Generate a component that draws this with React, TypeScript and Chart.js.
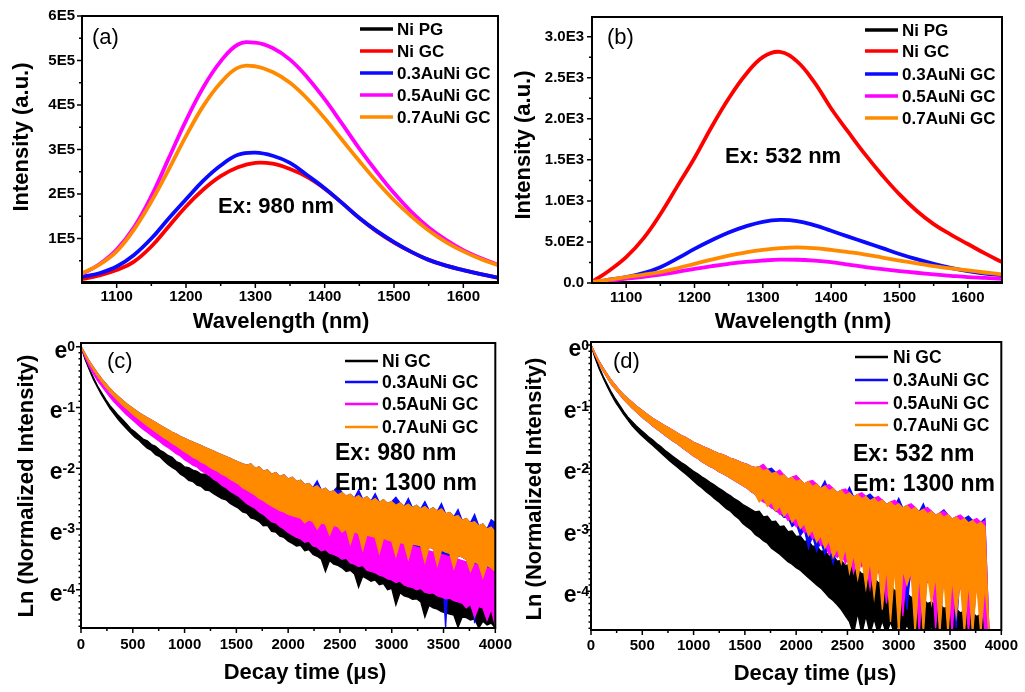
import React, { useEffect, useRef } from "react";
import { Chart, registerables } from "chart.js";

Chart.register(...registerables);

const FONT = "'Liberation Sans', Arial, Helvetica, sans-serif";

// ---------- Panel (a): PL spectra, Ex 980 nm (intensity in units of 1E5) ----------
const WAVELENGTHS = [1050, 1075, 1100, 1125, 1150, 1175, 1200, 1225, 1250, 1275, 1300, 1325, 1350, 1375, 1400, 1425, 1450, 1475, 1500, 1525, 1550, 1575, 1600, 1625, 1650];
const A_NI_PG = [0, 0, 0, 0, 0, 0, 0, 0, 0, 0, 0, 0, 0, 0, 0, 0, 0, 0, 0, 0, 0, 0, 0, 0, 0];
const A_NI_GC = [0.09, 0.17, 0.29, 0.48, 0.82, 1.27, 1.72, 2.10, 2.40, 2.60, 2.70, 2.68, 2.56, 2.38, 2.12, 1.80, 1.46, 1.16, 0.91, 0.70, 0.52, 0.39, 0.29, 0.20, 0.12];
const A_AU03 = [0.14, 0.22, 0.37, 0.63, 1.00, 1.45, 1.88, 2.30, 2.64, 2.88, 2.93, 2.86, 2.70, 2.42, 2.13, 1.80, 1.46, 1.17, 0.92, 0.70, 0.52, 0.39, 0.29, 0.20, 0.12];
const A_AU05 = [0.20, 0.42, 0.75, 1.25, 1.95, 2.80, 3.65, 4.40, 4.98, 5.36, 5.40, 5.28, 5.02, 4.62, 4.13, 3.58, 3.02, 2.50, 2.02, 1.60, 1.25, 0.97, 0.74, 0.56, 0.41];
const A_AU07 = [0.22, 0.41, 0.71, 1.20, 1.83, 2.55, 3.30, 3.98, 4.50, 4.84, 4.87, 4.74, 4.50, 4.14, 3.70, 3.22, 2.74, 2.28, 1.86, 1.50, 1.18, 0.92, 0.71, 0.54, 0.40];

// ---------- Panel (b): PL spectra, Ex 532 nm ----------
const B_NI_PG = [0, 0, 0, 0, 0, 0, 0, 0, 0, 0, 0, 0, 0, 0, 0, 0, 0, 0, 0, 0, 0, 0, 0, 0, 0];
const B_NI_GC = [12, 150, 314, 540, 838, 1180, 1522, 1900, 2247, 2540, 2751, 2815, 2700, 2450, 2126, 1840, 1563, 1310, 1079, 880, 717, 590, 475, 360, 254];
const B_AU03 = [0, 40, 72, 120, 193, 300, 415, 520, 616, 690, 745, 768, 755, 705, 636, 565, 495, 425, 354, 290, 234, 185, 145, 115, 93];
const B_AU05 = [12, 30, 52, 75, 101, 135, 173, 205, 234, 258, 274, 285, 283, 272, 254, 225, 193, 168, 145, 125, 105, 88, 72, 62, 52];
const B_AU07 = [12, 40, 72, 100, 133, 180, 234, 285, 334, 372, 403, 425, 435, 425, 403, 376, 346, 310, 274, 240, 205, 178, 153, 128, 105];

// ---------- Decay curves: ln(normalized intensity), every 40 us.
// The noisy traces are dense, so each one is given as the upper and lower edge of its noise band.
const TIME_STEP_US = 40;
const TIMES = Array.from({ length: 101 }, (_, i) => i * TIME_STEP_US);

const C_NI_GC_UP = [
  0.00, -0.19, -0.36, -0.51, -0.65, -0.76, -0.87, -0.97, -1.05, -1.13,
  -1.20, -1.27, -1.35, -1.40, -1.46, -1.52, -1.55, -1.61, -1.64, -1.70,
  -1.74, -1.79, -1.82, -1.89, -1.92, -1.98, -1.99, -2.03, -2.05, -2.10,
  -2.10, -2.14, -2.16, -2.19, -2.21, -2.25, -2.26, -2.31, -2.33, -2.37,
  -2.40, -2.45, -2.46, -2.53, -2.54, -2.60, -2.61, -2.68, -2.70, -2.75,
  -2.77, -2.78, -2.84, -2.84, -2.90, -2.90, -2.96, -2.97, -3.02, -3.03,
  -3.08, -3.09, -3.14, -3.12, -3.16, -3.18, -3.22, -3.22, -3.28, -3.28,
  -3.33, -3.34, -3.38, -3.39, -3.44, -3.45, -3.48, -3.52, -3.54, -3.58,
  -3.60, -3.64, -3.66, -3.70, -3.72, -3.76, -3.78, -3.82, -3.84, -3.85,
  -3.88, -3.88, -3.92, -3.93, -3.96, -3.96, -3.98, -4.00, -4.00, -4.02,
  -4.05,
];
const C_NI_GC_LO = [
  0.00, -0.21, -0.38, -0.54, -0.67, -0.80, -0.91, -1.02, -1.11, -1.20,
  -1.28, -1.35, -1.42, -1.49, -1.54, -1.61, -1.67, -1.71, -1.78, -1.81,
  -1.88, -1.94, -1.99, -2.03, -2.10, -2.14, -2.20, -2.22, -2.28, -2.30,
  -2.36, -2.37, -2.42, -2.46, -2.50, -2.52, -2.58, -2.62, -2.66, -2.72,
  -2.74, -2.82, -2.84, -2.88, -2.95, -2.94, -3.04, -3.05, -3.12, -3.14,
  -3.20, -3.24, -3.28, -3.27, -3.36, -3.34, -3.42, -3.45, -3.50, -3.70,
  -3.52, -3.58, -3.60, -3.64, -3.70, -3.68, -3.74, -3.96, -3.78, -3.82,
  -3.86, -3.84, -3.92, -3.90, -4.00, -3.98, -4.25, -4.05, -4.10, -4.12,
  -4.16, -4.15, -4.20, -4.45, -4.26, -4.30, -4.32, -4.36, -4.38, -4.40,
  -4.42, -4.62, -4.45, -4.46, -4.50, -4.48, -4.63, -4.52, -4.58, -4.55,
  -4.63,
];
const C_AU03_UP = [
  0.00, -0.12, -0.24, -0.34, -0.44, -0.53, -0.61, -0.69, -0.76, -0.82,
  -0.88, -0.94, -0.99, -1.04, -1.09, -1.13, -1.17, -1.21, -1.25, -1.29,
  -1.33, -1.37, -1.41, -1.44, -1.48, -1.51, -1.54, -1.57, -1.60, -1.63,
  -1.66, -1.69, -1.72, -1.75, -1.78, -1.81, -1.84, -1.87, -1.90, -1.93,
  -1.95, -1.93, -2.00, -1.98, -2.05, -2.03, -2.10, -2.07, -2.14, -2.11,
  -2.18, -2.15, -2.22, -2.20, -2.27, -2.25, -2.32, -2.21, -2.36, -2.33,
  -2.40, -2.37, -2.30, -2.40, -2.46, -2.43, -2.49, -2.36, -2.51, -2.47,
  -2.54, -2.42, -2.56, -2.52, -2.58, -2.55, -2.48, -2.57, -2.63, -2.50,
  -2.65, -2.61, -2.67, -2.55, -2.69, -2.65, -2.71, -2.58, -2.75, -2.73,
  -2.80, -2.68, -2.86, -2.83, -2.90, -2.76, -2.95, -2.92, -3.00, -2.85,
  -2.90,
];
const C_AU03_LO = [
  0.00, -0.14, -0.27, -0.38, -0.48, -0.58, -0.66, -0.74, -0.82, -0.89,
  -0.96, -1.02, -1.08, -1.14, -1.19, -1.25, -1.30, -1.35, -1.40, -1.45,
  -1.50, -1.54, -1.59, -1.63, -1.68, -1.73, -1.77, -1.82, -1.85, -1.90,
  -1.93, -1.98, -2.02, -2.05, -2.10, -2.13, -2.18, -2.22, -2.26, -2.32,
  -2.36, -2.40, -2.44, -2.50, -2.53, -2.58, -2.62, -2.66, -2.70, -2.72,
  -2.76, -2.78, -2.80, -2.82, -2.90, -2.85, -2.88, -3.00, -2.90, -3.15,
  -3.10, -2.94, -2.96, -3.05, -3.00, -3.25, -3.04, -3.08, -3.35, -3.10,
  -3.12, -3.14, -3.40, -3.55, -3.18, -3.20, -3.45, -3.22, -3.24, -3.50,
  -3.25, -3.60, -3.28, -3.55, -3.30, -3.32, -3.60, -3.35, -4.63, -3.40,
  -3.65, -3.44, -3.46, -3.50, -3.70, -4.55, -3.58, -3.80, -3.60, -4.20,
  -3.70,
];
const C_AU05_UP = [
  0.00, -0.16, -0.30, -0.42, -0.52, -0.61, -0.70, -0.78, -0.85, -0.92,
  -0.98, -1.04, -1.10, -1.15, -1.20, -1.24, -1.29, -1.33, -1.38, -1.42,
  -1.46, -1.50, -1.54, -1.57, -1.61, -1.65, -1.68, -1.71, -1.74, -1.78,
  -1.80, -1.84, -1.86, -1.90, -1.92, -1.96, -1.98, -2.02, -2.05, -2.08,
  -2.12, -2.15, -2.18, -2.22, -2.25, -2.30, -2.33, -2.38, -2.42, -2.46,
  -2.50, -2.54, -2.57, -2.60, -2.64, -2.66, -2.70, -2.73, -2.76, -2.78,
  -2.80, -2.84, -2.86, -2.88, -2.92, -2.94, -2.96, -2.98, -3.02, -3.04,
  -3.06, -3.08, -3.12, -3.14, -3.16, -3.18, -3.20, -3.22, -3.24, -3.26,
  -3.28, -3.30, -3.32, -3.34, -3.36, -3.38, -3.40, -3.42, -3.44, -3.46,
  -3.48, -3.50, -3.52, -3.54, -3.56, -3.58, -3.60, -3.62, -3.64, -3.66,
  -3.68,
];
const C_AU05_LO = [
  0.00, -0.18, -0.33, -0.45, -0.56, -0.65, -0.74, -0.83, -0.91, -0.98,
  -1.05, -1.12, -1.18, -1.24, -1.30, -1.36, -1.41, -1.46, -1.51, -1.56,
  -1.62, -1.66, -1.71, -1.76, -1.80, -1.86, -1.90, -1.95, -1.98, -2.04,
  -2.08, -2.12, -2.18, -2.22, -2.28, -2.32, -2.38, -2.42, -2.46, -2.52,
  -2.58, -2.62, -2.66, -2.72, -2.76, -2.82, -2.88, -2.90, -2.96, -3.00,
  -3.06, -3.10, -3.14, -3.16, -3.22, -3.20, -3.28, -3.30, -3.36, -3.34,
  -3.40, -3.42, -3.45, -3.50, -3.48, -3.56, -3.58, -3.62, -3.60, -3.68,
  -3.70, -3.72, -3.76, -3.78, -3.82, -3.84, -3.88, -3.86, -3.92, -3.95,
  -3.96, -4.00, -3.98, -4.04, -4.06, -4.05, -4.10, -4.12, -4.15, -4.14,
  -4.18, -4.20, -4.22, -4.30, -4.24, -4.45, -4.28, -4.30, -4.50, -4.32,
  -4.60,
];
const C_AU07_UP = [
  0.00, -0.12, -0.24, -0.34, -0.44, -0.53, -0.61, -0.69, -0.76, -0.82,
  -0.88, -0.94, -0.99, -1.04, -1.09, -1.13, -1.17, -1.21, -1.25, -1.29,
  -1.33, -1.37, -1.41, -1.44, -1.48, -1.51, -1.54, -1.57, -1.60, -1.63,
  -1.66, -1.69, -1.72, -1.75, -1.78, -1.81, -1.84, -1.87, -1.90, -1.93,
  -1.95, -1.93, -2.00, -1.98, -2.05, -2.03, -2.10, -2.07, -2.14, -2.11,
  -2.18, -2.15, -2.22, -2.20, -2.27, -2.25, -2.32, -2.29, -2.36, -2.33,
  -2.40, -2.37, -2.44, -2.40, -2.46, -2.43, -2.49, -2.45, -2.51, -2.47,
  -2.54, -2.50, -2.56, -2.52, -2.58, -2.55, -2.61, -2.57, -2.63, -2.59,
  -2.65, -2.61, -2.67, -2.63, -2.69, -2.65, -2.71, -2.67, -2.75, -2.73,
  -2.80, -2.78, -2.86, -2.83, -2.90, -2.88, -2.95, -2.92, -3.00, -2.97,
  -3.05,
];
const C_AU07_LO = [
  0.00, -0.14, -0.27, -0.38, -0.48, -0.58, -0.66, -0.74, -0.82, -0.89,
  -0.96, -1.02, -1.08, -1.14, -1.19, -1.25, -1.30, -1.35, -1.40, -1.45,
  -1.50, -1.54, -1.59, -1.63, -1.68, -1.73, -1.77, -1.82, -1.85, -1.90,
  -1.93, -1.98, -2.02, -2.05, -2.10, -2.13, -2.18, -2.22, -2.26, -2.32,
  -2.36, -2.40, -2.44, -2.50, -2.53, -2.58, -2.62, -2.66, -2.70, -2.72,
  -2.76, -2.78, -2.80, -2.82, -2.90, -2.85, -2.88, -3.00, -2.90, -2.92,
  -3.10, -2.94, -2.96, -3.05, -3.00, -3.25, -3.04, -3.08, -3.35, -3.10,
  -3.12, -3.14, -3.40, -3.15, -3.18, -3.20, -3.45, -3.22, -3.24, -3.50,
  -3.25, -3.26, -3.28, -3.55, -3.30, -3.32, -3.60, -3.35, -3.38, -3.40,
  -3.65, -3.44, -3.46, -3.50, -3.70, -3.54, -3.58, -3.80, -3.60, -3.64,
  -3.70,
];

const D_NI_GC_UP = [
  0.00, -0.19, -0.36, -0.51, -0.64, -0.77, -0.88, -0.98, -1.08, -1.17,
  -1.24, -1.31, -1.37, -1.43, -1.49, -1.54, -1.60, -1.65, -1.71, -1.76,
  -1.81, -1.86, -1.91, -1.95, -2.00, -2.05, -2.09, -2.14, -2.18, -2.23,
  -2.27, -2.32, -2.36, -2.41, -2.45, -2.50, -2.54, -2.59, -2.63, -2.67,
  -2.71, -2.70, -2.79, -2.78, -2.87, -2.86, -2.95, -2.94, -3.03, -3.02,
  -3.11, -3.10, -3.19, -3.18, -3.27, -3.26, -3.35, -3.34, -3.43, -3.42,
  -3.51, -3.50, -3.58, -3.57, -3.65, -3.64, -3.72, -3.71, -3.79, -3.78,
  -3.86, -3.85, -3.93, -3.91, -3.99, -3.97, -4.05, -4.03, -4.10, -4.08,
  -4.15, -4.13, -4.20, -4.17, -4.24, -4.21, -4.28, -4.25, -4.32, -4.29,
  -4.35, -4.32, -4.38, -4.35, -4.41, -4.37, -4.44, -4.70,
];
const D_NI_GC_LO = [
  0.00, -0.21, -0.39, -0.54, -0.68, -0.81, -0.93, -1.03, -1.13, -1.22,
  -1.31, -1.38, -1.45, -1.51, -1.57, -1.63, -1.69, -1.75, -1.81, -1.87,
  -1.93, -1.98, -2.04, -2.09, -2.15, -2.21, -2.27, -2.32, -2.38, -2.43,
  -2.49, -2.54, -2.60, -2.66, -2.70, -2.77, -2.82, -2.90, -2.95, -3.00,
  -3.08, -3.12, -3.18, -3.22, -3.30, -3.35, -3.40, -3.46, -3.52, -3.56,
  -3.62, -3.66, -3.72, -3.78, -3.84, -3.90, -3.95, -4.02, -4.10, -4.15,
  -4.22, -4.30, -4.40, -4.50, -4.70, -4.35, -4.70, -4.40, -4.70, -4.45,
  -4.70, -4.48, -4.70, -4.50, -4.70, -4.52, -4.70, -4.55, -4.70, -4.55,
  -4.70, -4.58, -4.70, -4.58, -4.70, -4.60, -4.70, -4.60, -4.70, -4.62,
  -4.70, -4.62, -4.70, -4.62, -4.70, -4.62, -4.70, -4.70,
];
const D_AU03_UP = [
  0.00, -0.14, -0.27, -0.38, -0.48, -0.58, -0.66, -0.74, -0.81, -0.87,
  -0.93, -0.99, -1.04, -1.09, -1.14, -1.19, -1.23, -1.27, -1.31, -1.35,
  -1.39, -1.43, -1.47, -1.50, -1.54, -1.58, -1.61, -1.64, -1.67, -1.70,
  -1.73, -1.76, -1.78, -1.81, -1.84, -1.86, -1.89, -1.92, -1.94, -1.97,
  -1.99, -1.98, -2.04, -2.02, -2.00, -2.07, -2.13, -2.11, -2.18, -2.15,
  -2.13, -2.19, -2.26, -2.22, -2.30, -2.26, -2.33, -2.21, -2.37, -2.33,
  -2.40, -2.36, -2.44, -2.31, -2.47, -2.43, -2.50, -2.46, -2.42, -2.49,
  -2.56, -2.52, -2.59, -2.55, -2.62, -2.49, -2.65, -2.61, -2.68, -2.64,
  -2.71, -2.58, -2.74, -2.70, -2.77, -2.73, -2.68, -2.76, -2.83, -2.79,
  -2.86, -2.82, -2.78, -2.85, -2.92, -2.88, -2.82, -4.70,
];
const D_AU03_LO = [
  0.00, -0.16, -0.30, -0.42, -0.53, -0.64, -0.72, -0.80, -0.88, -0.95,
  -1.02, -1.08, -1.14, -1.20, -1.25, -1.31, -1.36, -1.41, -1.46, -1.51,
  -1.56, -1.60, -1.65, -1.70, -1.75, -1.80, -1.84, -1.89, -1.93, -1.97,
  -2.00, -2.05, -2.08, -2.12, -2.16, -2.20, -2.24, -2.28, -2.32, -2.38,
  -2.42, -2.52, -2.50, -2.60, -2.62, -2.70, -2.72, -2.80, -2.80, -2.95,
  -2.90, -3.10, -3.00, -3.30, -3.10, -3.35, -3.20, -3.40, -3.30, -3.55,
  -3.30, -3.50, -3.35, -3.60, -3.40, -3.75, -3.42, -3.65, -3.45, -3.90,
  -3.48, -3.70, -3.50, -4.10, -3.52, -3.75, -3.55, -4.30, -3.58, -3.80,
  -3.60, -4.50, -3.62, -3.85, -3.64, -4.70, -3.66, -3.90, -3.68, -4.60,
  -3.70, -3.95, -3.72, -4.70, -3.74, -4.00, -3.76, -4.70,
];
const D_AU05_UP = [
  0.00, -0.14, -0.27, -0.38, -0.48, -0.58, -0.66, -0.74, -0.81, -0.87,
  -0.93, -0.99, -1.04, -1.09, -1.14, -1.19, -1.23, -1.27, -1.31, -1.35,
  -1.39, -1.43, -1.47, -1.50, -1.54, -1.58, -1.61, -1.64, -1.67, -1.70,
  -1.73, -1.76, -1.78, -1.81, -1.84, -1.86, -1.89, -1.92, -1.94, -1.97,
  -1.99, -1.98, -1.94, -2.02, -2.09, -2.07, -2.03, -2.11, -2.18, -2.15,
  -2.12, -2.19, -2.26, -2.22, -2.20, -2.26, -2.33, -2.29, -2.27, -2.33,
  -2.40, -2.36, -2.34, -2.40, -2.47, -2.43, -2.40, -2.46, -2.53, -2.49,
  -2.46, -2.52, -2.59, -2.55, -2.52, -2.58, -2.65, -2.61, -2.58, -2.64,
  -2.71, -2.67, -2.64, -2.70, -2.77, -2.73, -2.70, -2.76, -2.83, -2.79,
  -2.76, -2.82, -2.89, -2.85, -2.82, -2.88, -2.86, -4.70,
];
const D_AU05_LO = [
  0.00, -0.16, -0.30, -0.42, -0.53, -0.64, -0.72, -0.80, -0.88, -0.95,
  -1.02, -1.08, -1.14, -1.20, -1.25, -1.31, -1.36, -1.41, -1.46, -1.51,
  -1.56, -1.60, -1.65, -1.70, -1.75, -1.80, -1.84, -1.89, -1.93, -1.97,
  -2.00, -2.05, -2.08, -2.12, -2.16, -2.20, -2.24, -2.28, -2.32, -2.38,
  -2.42, -2.50, -2.55, -2.58, -2.65, -2.66, -2.75, -2.74, -2.85, -2.82,
  -2.95, -2.92, -3.05, -3.02, -3.15, -3.10, -3.25, -3.22, -3.40, -3.35,
  -3.45, -3.38, -3.55, -3.42, -3.70, -3.45, -3.60, -3.48, -3.95, -3.50,
  -3.70, -3.52, -4.20, -3.55, -3.75, -3.58, -4.40, -3.60, -3.80, -3.62,
  -4.70, -3.64, -3.85, -3.66, -4.60, -3.68, -3.90, -3.70, -4.70, -3.72,
  -3.95, -3.74, -4.70, -3.76, -4.00, -3.78, -4.70, -4.70,
];
const D_AU07_UP = [
  0.00, -0.14, -0.27, -0.38, -0.48, -0.58, -0.66, -0.74, -0.81, -0.87,
  -0.93, -0.99, -1.04, -1.09, -1.14, -1.19, -1.23, -1.27, -1.31, -1.35,
  -1.39, -1.43, -1.47, -1.50, -1.54, -1.58, -1.61, -1.64, -1.67, -1.70,
  -1.73, -1.76, -1.78, -1.81, -1.84, -1.86, -1.89, -1.92, -1.94, -1.97,
  -1.99, -1.98, -2.04, -2.02, -2.09, -2.07, -2.13, -2.11, -2.18, -2.15,
  -2.22, -2.19, -2.26, -2.22, -2.30, -2.26, -2.33, -2.29, -2.37, -2.33,
  -2.40, -2.36, -2.44, -2.40, -2.47, -2.43, -2.50, -2.46, -2.53, -2.49,
  -2.56, -2.52, -2.59, -2.55, -2.62, -2.58, -2.65, -2.61, -2.68, -2.64,
  -2.71, -2.67, -2.74, -2.70, -2.77, -2.73, -2.80, -2.76, -2.83, -2.79,
  -2.86, -2.82, -2.89, -2.85, -2.92, -2.88, -2.95, -4.70,
];
const D_AU07_LO = [
  0.00, -0.16, -0.30, -0.42, -0.53, -0.64, -0.72, -0.80, -0.88, -0.95,
  -1.02, -1.08, -1.14, -1.20, -1.25, -1.31, -1.36, -1.41, -1.46, -1.51,
  -1.56, -1.60, -1.65, -1.70, -1.75, -1.80, -1.84, -1.89, -1.93, -1.97,
  -2.00, -2.05, -2.08, -2.12, -2.16, -2.20, -2.24, -2.28, -2.32, -2.38,
  -2.42, -2.55, -2.48, -2.62, -2.55, -2.70, -2.62, -2.78, -2.70, -2.88,
  -2.80, -2.98, -2.90, -3.10, -3.00, -3.20, -3.10, -3.30, -3.18, -3.45,
  -3.30, -3.55, -3.30, -3.70, -3.40, -3.80, -3.45, -3.95, -3.50, -4.10,
  -3.55, -4.30, -3.60, -4.50, -3.62, -4.70, -3.65, -3.90, -3.68, -4.70,
  -3.70, -4.70, -3.72, -4.20, -3.75, -4.70, -3.78, -4.70, -3.80, -4.40,
  -3.82, -4.70, -3.85, -4.70, -3.88, -4.70, -3.90, -4.70,
];

// ---------- Tick positions ----------
const WL_TICKS = [1100, 1200, 1300, 1400, 1500, 1600];
const WL_MINOR = [1150, 1250, 1350, 1450, 1550];
const A_Y_TICKS = [1, 2, 3, 4, 5, 6];
const A_Y_MINOR = [0.5, 1.5, 2.5, 3.5, 4.5, 5.5];
const B_Y_TICKS = [0, 500, 1000, 1500, 2000, 2500, 3000];
const B_Y_MINOR = [250, 750, 1250, 1750, 2250, 2750];
const T_TICKS = [0, 500, 1000, 1500, 2000, 2500, 3000, 3500, 4000];
const T_MINOR = [250, 750, 1250, 1750, 2250, 2750, 3250, 3750];
const LN_TICKS = [0, -1, -2, -3, -4];
const LN_MINOR = Array.from({ length: 46 }, (_, i) => -(i + 1) / 10).filter((v) => Math.abs(v - Math.round(v)) > 1e-6);

const COL = {
  black: "#000000",
  red: "#ff0000",
  blue: "#0a0aff",
  magenta: "#ff00ff",
  orange: "#ff8a00",
};

type XY = { x: number; y: number };
type Txt = { text: string; x: number; y: number; size: number; bold?: boolean };
type Series = { label: string; color: string; pts?: XY[]; upper?: XY[]; lower?: XY[] };
type Spec = {
  id: string;
  left: number; top: number; width: number; height: number;
  area: { l: number; t: number; r: number; b: number };
  xMin: number; xMax: number; xTicks: number[]; xMinor: number[]; xPad: number;
  yMin: number; yMax: number; yTicks: number[]; yMinor: number[]; yMinorLen: number;
  yLabel: ((v: number) => string) | null; yPad: number; eGap?: number;
  series: Series[]; lineWidth: number; smooth: boolean;
  legend: { x0: number; x1: number; tx: number; rows: number[]; lw: number; size: number };
  texts: Txt[];
  xTitle: Txt; yTitle: Txt;
};

const zipXY = (xs: number[], ys: number[]): XY[] => ys.map((y, i) => ({ x: xs[i], y }));

const specA: Spec = {
  id: "a", left: 0, top: 0, width: 510, height: 338,
  area: { l: 82, t: 15, r: 498, b: 283 },
  xMin: 1050, xMax: 1650, xTicks: WL_TICKS, xMinor: WL_MINOR, xPad: 5,
  yMin: 0, yMax: 6, yTicks: A_Y_TICKS, yMinor: A_Y_MINOR, yMinorLen: 3,
  yLabel: (v) => `${v}E5`, yPad: 7,
  series: [
    { label: "Ni PG", color: COL.black, pts: zipXY(WAVELENGTHS, A_NI_PG) },
    { label: "Ni GC", color: COL.red, pts: zipXY(WAVELENGTHS, A_NI_GC) },
    { label: "0.3AuNi GC", color: COL.blue, pts: zipXY(WAVELENGTHS, A_AU03) },
    { label: "0.5AuNi GC", color: COL.magenta, pts: zipXY(WAVELENGTHS, A_AU05) },
    { label: "0.7AuNi GC", color: COL.orange, pts: zipXY(WAVELENGTHS, A_AU07) },
  ],
  lineWidth: 3.8, smooth: true,
  legend: { x0: 360, x1: 393, tx: 397, rows: [29, 51, 73, 95, 117], lw: 3.5, size: 17 },
  texts: [
    { text: "(a)", x: 92, y: 38, size: 22 },
    { text: "Ex: 980 nm", x: 218, y: 207, size: 22, bold: true },
  ],
  xTitle: { text: "Wavelength (nm)", x: 281, y: 322, size: 22, bold: true },
  yTitle: { text: "Intensity (a.u.)", x: 22, y: 137, size: 22, bold: true },
};

const specB: Spec = {
  id: "b", left: 510, top: 0, width: 515, height: 338,
  area: { l: 592, t: 14, r: 1002, b: 283 },
  xMin: 1050, xMax: 1650, xTicks: WL_TICKS, xMinor: WL_MINOR, xPad: 6,
  yMin: 0, yMax: 3240, yTicks: B_Y_TICKS, yMinor: B_Y_MINOR, yMinorLen: 3,
  yLabel: (v) => (v === 0 ? "0.0" : v < 1000 ? `${(v / 100).toFixed(1)}E2` : `${(v / 1000).toFixed(1)}E3`),
  yPad: 8,
  series: [
    { label: "Ni PG", color: COL.black, pts: zipXY(WAVELENGTHS, B_NI_PG) },
    { label: "Ni GC", color: COL.red, pts: zipXY(WAVELENGTHS, B_NI_GC) },
    { label: "0.3AuNi GC", color: COL.blue, pts: zipXY(WAVELENGTHS, B_AU03) },
    { label: "0.5AuNi GC", color: COL.magenta, pts: zipXY(WAVELENGTHS, B_AU05) },
    { label: "0.7AuNi GC", color: COL.orange, pts: zipXY(WAVELENGTHS, B_AU07) },
  ],
  lineWidth: 3.8, smooth: true,
  legend: { x0: 865, x1: 898, tx: 902, rows: [30, 51, 74, 96, 118], lw: 3.5, size: 17 },
  texts: [
    { text: "(b)", x: 607, y: 38, size: 22 },
    { text: "Ex: 532 nm", x: 725, y: 157, size: 22, bold: true },
  ],
  xTitle: { text: "Wavelength (nm)", x: 803, y: 322, size: 22, bold: true },
  yTitle: { text: "Intensity (a.u.)", x: 524, y: 145, size: 22, bold: true },
};

const specC: Spec = {
  id: "c", left: 0, top: 338, width: 520, height: 354,
  area: { l: 81, t: 343, r: 496, b: 628 },
  xMin: 0, xMax: 4000, xTicks: T_TICKS, xMinor: T_MINOR, xPad: 8,
  yMin: -4.63, yMax: 0.06, yTicks: LN_TICKS, yMinor: LN_MINOR, yMinorLen: 2.5,
  yLabel: null, yPad: 6, eGap: 6,
  series: [
    { label: "Ni GC", color: COL.black, upper: zipXY(TIMES, C_NI_GC_UP), lower: zipXY(TIMES, C_NI_GC_LO) },
    { label: "0.3AuNi GC", color: COL.blue, upper: zipXY(TIMES, C_AU03_UP), lower: zipXY(TIMES, C_AU03_LO) },
    { label: "0.5AuNi GC", color: COL.magenta, upper: zipXY(TIMES, C_AU05_UP), lower: zipXY(TIMES, C_AU05_LO) },
    { label: "0.7AuNi GC", color: COL.orange, upper: zipXY(TIMES, C_AU07_UP), lower: zipXY(TIMES, C_AU07_LO) },
  ],
  lineWidth: 1.3, smooth: false,
  legend: { x0: 345, x1: 378, tx: 382, rows: [361, 382, 404, 427], lw: 2.5, size: 17.5 },
  texts: [
    { text: "(c)", x: 107, y: 362, size: 22 },
    { text: "Ex: 980 nm", x: 335, y: 454, size: 23, bold: true },
    { text: "Em: 1300 nm", x: 335, y: 484, size: 23, bold: true },
  ],
  xTitle: { text: "Decay time (\u03bcs)", x: 305, y: 673, size: 22, bold: true },
  yTitle: { text: "Ln (Normalized Intensity)", x: 27, y: 486, size: 22, bold: true },
};

const specD: Spec = {
  id: "d", left: 510, top: 338, width: 515, height: 354,
  area: { l: 591, t: 342, r: 1003, b: 630 },
  xMin: 0, xMax: 4000, xTicks: T_TICKS, xMinor: T_MINOR, xPad: 7,
  yMin: -4.63, yMax: 0.05, yTicks: LN_TICKS, yMinor: LN_MINOR, yMinorLen: 2.5,
  yLabel: null, yPad: 6, eGap: 2,
  series: [
    { label: "Ni GC", color: COL.black, upper: zipXY(TIMES, D_NI_GC_UP), lower: zipXY(TIMES, D_NI_GC_LO) },
    { label: "0.3AuNi GC", color: COL.blue, upper: zipXY(TIMES, D_AU03_UP), lower: zipXY(TIMES, D_AU03_LO) },
    { label: "0.5AuNi GC", color: COL.magenta, upper: zipXY(TIMES, D_AU05_UP), lower: zipXY(TIMES, D_AU05_LO) },
    { label: "0.7AuNi GC", color: COL.orange, upper: zipXY(TIMES, D_AU07_UP), lower: zipXY(TIMES, D_AU07_LO) },
  ],
  lineWidth: 1.3, smooth: false,
  legend: { x0: 855, x1: 888, tx: 893, rows: [357, 380, 403, 425], lw: 2.5, size: 17.5 },
  texts: [
    { text: "(d)", x: 613, y: 362, size: 22 },
    { text: "Ex: 532 nm", x: 853, y: 455, size: 23, bold: true },
    { text: "Em: 1300 nm", x: 853, y: 485, size: 23, bold: true },
  ],
  xTitle: { text: "Decay time (\u03bcs)", x: 815, y: 674, size: 22, bold: true },
  yTitle: { text: "Ln (Normalized Intensity)", x: 535, y: 489, size: 22, bold: true },
};

const SPECS = [specA, specB, specC, specD];

function fontOf(t: { size: number; bold?: boolean }) {
  return `${t.bold ? "bold " : ""}${t.size}px ${FONT}`;
}

function Panel({ spec }: { spec: Spec }) {
  const ref = useRef<HTMLCanvasElement | null>(null);
  useEffect(() => {
    const s = spec;
    const ox = s.left;
    const oy = s.top;
    const n = s.series.length;
    const yW = s.area.l - s.left;
    const xH = s.top + s.height - s.area.b;

    const deco = {
      id: "deco-" + s.id,
      afterDraw(chart: any) {
        const ctx = chart.ctx as CanvasRenderingContext2D;
        const a = chart.chartArea;
        const xs = chart.scales.x;
        const ys = chart.scales.y;
        ctx.save();
        ctx.strokeStyle = "#000";
        ctx.fillStyle = "#000";
        ctx.lineWidth = 2;
        ctx.strokeRect(a.left, a.top, a.right - a.left, a.bottom - a.top);
        ctx.lineWidth = 1.5;
        ctx.beginPath();
        s.xTicks.forEach((v) => {
          const p = xs.getPixelForValue(v);
          ctx.moveTo(p, a.bottom);
          ctx.lineTo(p, a.bottom + 5);
        });
        s.xMinor.forEach((v) => {
          const p = xs.getPixelForValue(v);
          ctx.moveTo(p, a.bottom);
          ctx.lineTo(p, a.bottom + 3);
        });
        s.yTicks.forEach((v) => {
          const p = ys.getPixelForValue(v);
          ctx.moveTo(a.left, p);
          ctx.lineTo(a.left - 5, p);
        });
        s.yMinor.forEach((v) => {
          if (v < s.yMin || v > s.yMax) return;
          const p = ys.getPixelForValue(v);
          ctx.moveTo(a.left, p);
          ctx.lineTo(a.left - s.yMinorLen, p);
        });
        ctx.stroke();

        if (s.eGap !== undefined) {
          ctx.textAlign = "left";
          ctx.textBaseline = "alphabetic";
          s.yTicks.forEach((v) => {
            const p = ys.getPixelForValue(v);
            const sup = v === 0 ? "0" : "-" + String(-v);
            ctx.font = `bold 14px ${FONT}`;
            const sw = ctx.measureText(sup).width;
            ctx.font = `bold 23px ${FONT}`;
            const ew = ctx.measureText("e").width;
            const right = a.left - (s.eGap as number);
            ctx.fillText("e", right - sw - ew, p + 11);
            ctx.font = `bold 14px ${FONT}`;
            ctx.fillText(sup, right - sw, p + 4.5);
          });
        }

        ctx.textBaseline = "middle";
        ctx.textAlign = "left";
        s.series.forEach((se, i) => {
          const y = s.legend.rows[i] - oy;
          ctx.strokeStyle = se.color;
          ctx.lineWidth = s.legend.lw;
          ctx.beginPath();
          ctx.moveTo(s.legend.x0 - ox, y);
          ctx.lineTo(s.legend.x1 - ox, y);
          ctx.stroke();
          ctx.font = `bold ${s.legend.size}px ${FONT}`;
          ctx.fillStyle = "#000";
          ctx.fillText(se.label, s.legend.tx - ox, y + 1);
        });

        s.texts.forEach((t) => {
          ctx.font = fontOf(t);
          ctx.fillText(t.text, t.x - ox, t.y - oy);
        });

        ctx.textAlign = "center";
        ctx.font = fontOf(s.xTitle);
        ctx.fillText(s.xTitle.text, s.xTitle.x - ox, s.xTitle.y - oy);
        ctx.save();
        ctx.translate(s.yTitle.x - ox, s.yTitle.y - oy);
        ctx.rotate(-Math.PI / 2);
        ctx.font = fontOf(s.yTitle);
        ctx.fillText(s.yTitle.text, 0, 0);
        ctx.restore();
        ctx.restore();
      },
    };

    const datasets: any[] = [];
    s.series.forEach((se, k) => {
      const ord = (n - k) * 2;
      const base = {
        borderColor: se.color,
        backgroundColor: se.color,
        borderWidth: s.lineWidth,
        pointRadius: 0,
        pointHoverRadius: 0,
        tension: s.smooth ? 0.4 : 0,
        cubicInterpolationMode: "default",
        clip: 0,
      };
      if (se.pts) {
        datasets.push({ ...base, label: se.label, data: se.pts, fill: false, order: ord });
      } else {
        datasets.push({ ...base, label: se.label + " (upper)", data: se.upper, fill: false, order: ord });
        datasets.push({ ...base, label: se.label + " (lower)", data: se.lower, fill: "-1", order: ord - 1 });
      }
    });

    const tickFont = { family: FONT, size: 15, weight: "bold" as const };

    const chart = new Chart(ref.current as HTMLCanvasElement, {
      type: "line",
      data: { datasets },
      options: {
        animation: false,
        responsive: false,
        maintainAspectRatio: false,
        events: [],
        layout: {
          padding: { left: 0, top: s.area.t - s.top, right: s.left + s.width - s.area.r, bottom: 0 },
        },
        plugins: {
          legend: { display: false },
          tooltip: { enabled: false },
          title: { display: false },
        },
        scales: {
          x: {
            type: "linear",
            min: s.xMin,
            max: s.xMax,
            grid: { display: false, drawTicks: false },
            border: { display: false },
            ticks: {
              color: "#000",
              font: tickFont,
              padding: s.xPad,
              maxRotation: 0,
              autoSkip: false,
              callback: (v: any) => String(v),
            },
            afterBuildTicks: (sc: any) => {
              sc.ticks = s.xTicks.map((v) => ({ value: v }));
            },
            afterFit: (sc: any) => {
              sc.height = xH;
            },
          },
          y: {
            type: "linear",
            min: s.yMin,
            max: s.yMax,
            grid: { display: false, drawTicks: false },
            border: { display: false },
            ticks: {
              display: s.yLabel !== null,
              color: "#000",
              font: tickFont,
              padding: s.yPad,
              autoSkip: false,
              callback: (v: any) => (s.yLabel ? s.yLabel(Number(v)) : ""),
            },
            afterBuildTicks: (sc: any) => {
              sc.ticks = s.yTicks.map((v) => ({ value: v }));
            },
            afterFit: (sc: any) => {
              sc.width = yW;
            },
          },
        },
      },
      plugins: [deco],
    });
    return () => chart.destroy();
  }, [spec]);

  return (
    <canvas
      ref={ref}
      width={spec.width}
      height={spec.height}
      style={{ position: "absolute", left: spec.left, top: spec.top, width: spec.width, height: spec.height }}
    />
  );
}

export default function App() {
  return (
    <div style={{ position: "absolute", left: 0, top: 0, width: 1025, height: 692, background: "#ffffff", overflow: "hidden" }}>
      {SPECS.map((s) => (
        <Panel key={s.id} spec={s} />
      ))}
    </div>
  );
}
